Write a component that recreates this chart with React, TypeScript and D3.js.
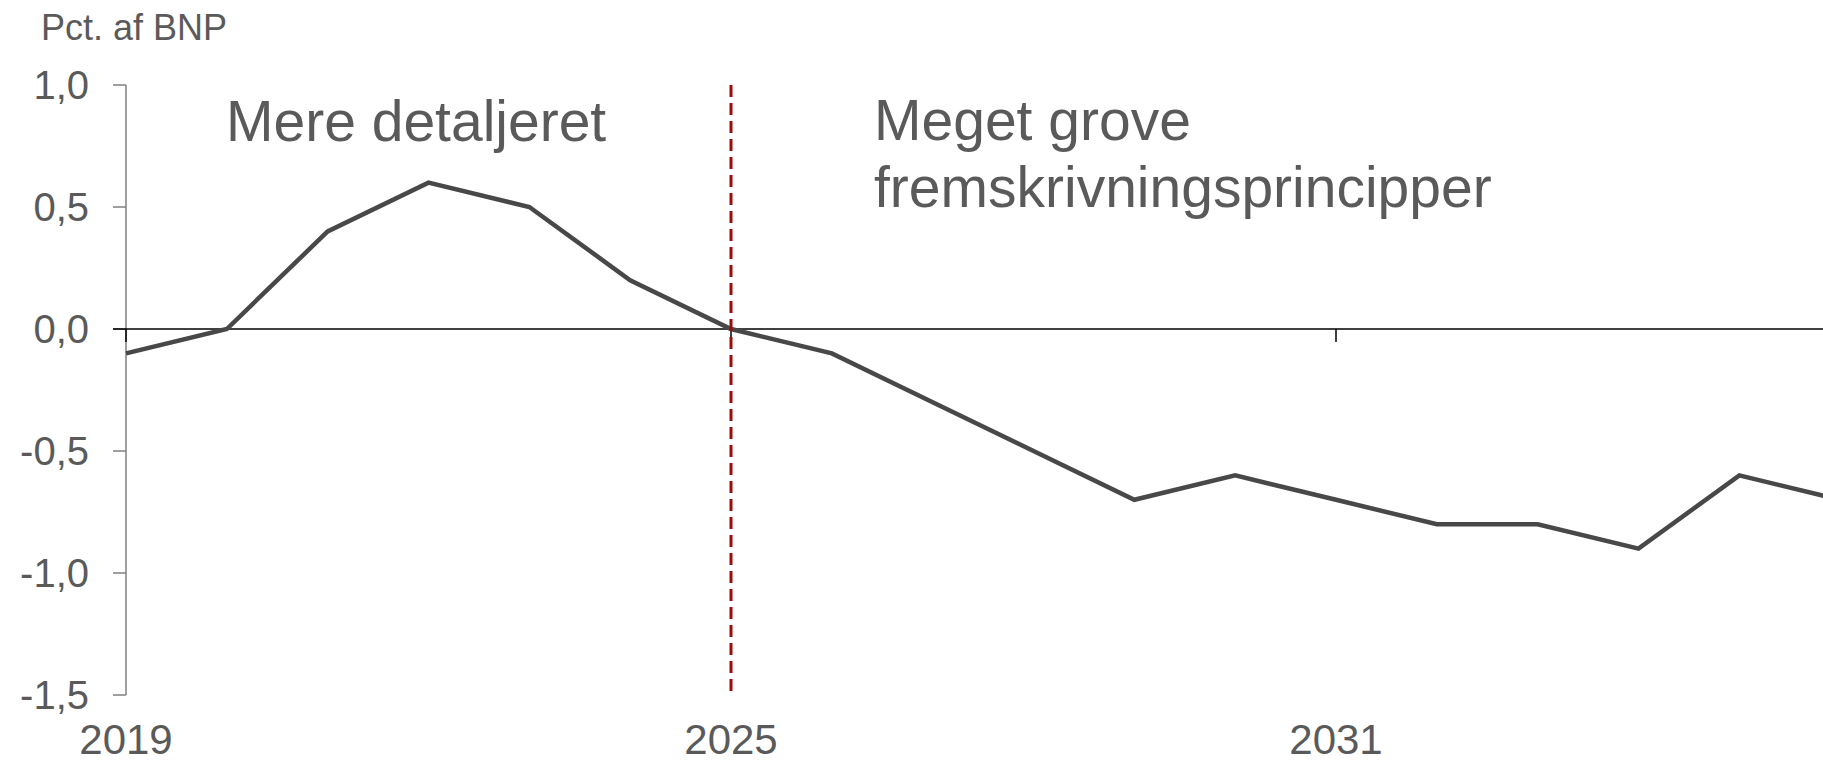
import React from "react";
import * as d3 from "d3";

const years: number[] = [2019, 2020, 2021, 2022, 2023, 2024, 2025, 2026, 2027, 2028, 2029, 2030, 2031, 2032, 2033, 2034, 2035, 2036];
const values: number[] = [-0.1, 0.0, 0.4, 0.6, 0.5, 0.2, 0.0, -0.1, -0.3, -0.5, -0.7, -0.6, -0.7, -0.8, -0.8, -0.9, -0.6, -0.7];
const yTicks: number[] = [1.0, 0.5, 0.0, -0.5, -1.0, -1.5];
const xTicks: number[] = [2019, 2025, 2031];
const dividerYear = 2025;
const yAxisTitle = "Pct. af BNP";
const leftLabel = "Mere detaljeret";
const rightLabelLines: string[] = ["Meget grove", "fremskrivningsprincipper"];

const W = 1823;
const H = 763;
const FONT = "'Liberation Sans', Arial, Helvetica, sans-serif";
const TEXT = "#5a5a5a";

function fmt(v: number): string {
  const s = Math.abs(v).toFixed(1).replace(".", ",");
  return v < 0 ? "-" + s : s;
}

export default function App() {
  const x = d3.scaleLinear().domain([2019, 2031]).range([126, 1336]);
  const y = d3.scaleLinear().domain([-1.5, 1.0]).range([695, 85]);
  const line = d3
    .line<number>()
    .x((_, i) => x(years[i]))
    .y((d) => y(d));

  return (
    <div style={{ position: "absolute", left: 0, top: 0 }}>
      <svg width={W} height={H} style={{ display: "block", background: "#fff" }}>
        <rect x={0} y={0} width={W} height={H} fill="#fff" />
        <text x={41} y={40} fontFamily={FONT} fontSize={36} fill={TEXT}>
          {yAxisTitle}
        </text>
        <line x1={x(2019)} x2={x(2019)} y1={y(1.0)} y2={y(-1.5)} stroke="#7f7f7f" strokeWidth={1.5} />
        {yTicks.map((t) => (
          <g key={t}>
            <line x1={x(2019) - 13} x2={x(2019)} y1={y(t)} y2={y(t)} stroke="#7f7f7f" strokeWidth={1.5} />
            <text
              x={89}
              y={y(t)}
              dy="0.36em"
              textAnchor="end"
              fontFamily={FONT}
              fontSize={40}
              fill={TEXT}
            >
              {fmt(t)}
            </text>
          </g>
        ))}
        <line x1={x(2019) - 13} x2={W} y1={y(0)} y2={y(0)} stroke="#000" strokeWidth={1.5} />
        {xTicks.map((t) => (
          <g key={t}>
            <line x1={x(t)} x2={x(t)} y1={y(0)} y2={y(0) + 13} stroke="#000" strokeWidth={1.5} />
            <text
              x={x(t)}
              y={754}
              textAnchor="middle"
              fontFamily={FONT}
              fontSize={42}
              fill={TEXT}
            >
              {t}
            </text>
          </g>
        ))}
        <path d={line(values) || ""} fill="none" stroke="#484848" strokeWidth={4.5} strokeLinejoin="miter" />
        <line
          x1={x(dividerYear)}
          x2={x(dividerYear)}
          y1={y(1.0)}
          y2={y(-1.5)}
          stroke="#9b0d0d"
          strokeWidth={3}
          strokeDasharray="12,6"
        />
        <text x={226} y={141} fontFamily={FONT} fontSize={57} fill={TEXT}>
          {leftLabel}
        </text>
        {rightLabelLines.map((s, i) => (
          <text key={s} x={874} y={140 + i * 67} fontFamily={FONT} fontSize={57} fill={TEXT}>
            {s}
          </text>
        ))}
      </svg>
    </div>
  );
}
